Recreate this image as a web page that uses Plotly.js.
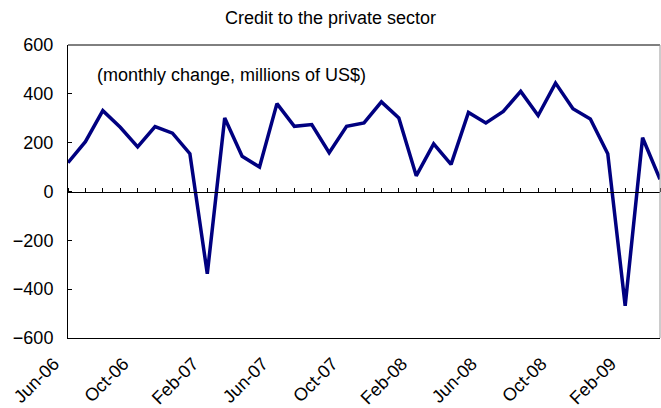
<!DOCTYPE html>
<html>
<head>
<meta charset="utf-8">
<script src="https://cdn.plot.ly/plotly-3.0.1.min.js"></script>
<style>
  html, body { margin: 0; padding: 0; background: #fff; }
  #chart { width: 661px; height: 408px; }
</style>
</head>
<body>
<div id="chart"></div>
<script>
var months = ['Jun-06', 'Jul-06', 'Aug-06', 'Sep-06', 'Oct-06', 'Nov-06', 'Dec-06',
  'Jan-07', 'Feb-07', 'Mar-07', 'Apr-07', 'May-07', 'Jun-07', 'Jul-07', 'Aug-07',
  'Sep-07', 'Oct-07', 'Nov-07', 'Dec-07', 'Jan-08', 'Feb-08', 'Mar-08', 'Apr-08',
  'May-08', 'Jun-08', 'Jul-08', 'Aug-08', 'Sep-08', 'Oct-08', 'Nov-08', 'Dec-08',
  'Jan-09', 'Feb-09', 'Mar-09', 'Apr-09'];

var credit = [118, 204, 331, 263, 183, 266, 239, 155, -337, 301, 144, 100, 360, 267,
  274, 159, 267, 281, 367, 301, 64, 195, 111, 324, 281, 328, 410, 311, 444, 339,
  297, 155, -468, 220, 50];

var labelMonths = ['Jun-06', 'Oct-06', 'Feb-07', 'Jun-07', 'Oct-07', 'Feb-08',
  'Jun-08', 'Oct-08', 'Feb-09'];

var yTicks = [-600, -400, -200, 0, 200, 400, 600];

var font = {family: 'Liberation Sans, Arial, sans-serif', size: 18, color: '#000'};

var line = {
  x: months,
  y: credit,
  type: 'scatter',
  mode: 'lines',
  line: {color: '#000080', width: 3.5},
  hoverinfo: 'x+y'
};

// carries the month ticks drawn on the zero line
var ghost = {
  x: months,
  y: credit,
  xaxis: 'x2',
  type: 'scatter',
  mode: 'none',
  hoverinfo: 'skip'
};

var layout = {
  width: 661,
  height: 408,
  margin: {l: 68, r: 1, t: 45, b: 70},
  paper_bgcolor: '#fff',
  plot_bgcolor: '#fff',
  font: font,
  showlegend: false,
  title: {
    text: 'Credit to the private sector',
    font: font,
    x: 0.5, xref: 'container',
    y: 0.956, yref: 'container', yanchor: 'middle'
  },
  xaxis: {
    type: 'category',
    range: [0, months.length - 1],
    tickvals: labelMonths,
    // padding pushes the rotated labels left of their tick like the original
    ticktext: labelMonths.map(function (m) { return m + '\u00a0\u00a0\u00a0\u00a0'; }),
    tickangle: -45,
    ticks: '',
    ticklabelstandoff: -7,
    showgrid: false,
    zeroline: false,
    showline: true,
    linecolor: '#000',
    linewidth: 1,
    tickfont: font
  },
  xaxis2: {
    type: 'category',
    overlaying: 'x',
    matches: 'x',
    side: 'top',
    anchor: 'free',
    position: 0.5,
    tickvals: months,
    ticks: 'outside',
    ticklen: 4,
    tickcolor: '#000',
    showticklabels: false,
    showgrid: false,
    zeroline: false,
    showline: true,
    linecolor: '#000',
    linewidth: 1
  },
  yaxis: {
    range: [-600, 600],
    tickvals: yTicks,
    ticks: 'inside',
    ticklen: 4,
    tickcolor: '#000',
    showgrid: false,
    zeroline: false,
    showline: true,
    linecolor: '#000',
    linewidth: 1,
    tickfont: font,
    ticklabelstandoff: 10
  },
  shapes: [
    {type: 'line', xref: 'paper', yref: 'paper', x0: 0, x1: 1, y0: 1, y1: 1,
      line: {color: '#000', width: 1}},
    {type: 'line', xref: 'paper', yref: 'paper', x0: 1, x1: 1, y0: 0, y1: 1,
      line: {color: '#999', width: 1}}
  ],
  annotations: [{
    text: '(monthly change, millions of US$)',
    xref: 'paper', yref: 'paper',
    x: 0.046, y: 0.898,
    xanchor: 'left', yanchor: 'middle',
    showarrow: false,
    font: font
  }]
};

Plotly.newPlot('chart', [line, ghost], layout, {displayModeBar: false, staticPlot: true});
</script>
</body>
</html>
